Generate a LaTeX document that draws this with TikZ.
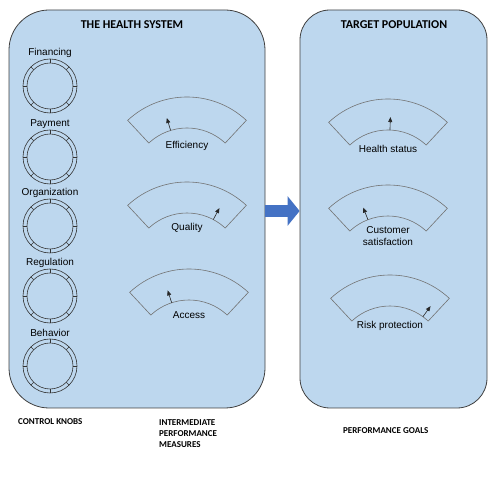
\documentclass[tikz,border=0pt]{standalone}
\usepackage{fontspec}
\setmainfont{Liberation Sans}
\newfontfamily\calibri{Carlito}
\usetikzlibrary{arrows.meta}

\definecolor{panelblue}{HTML}{BDD7EE}
\definecolor{arrowblue}{HTML}{4472C4}

\tikzset{
  knob/.pic={
    \draw[black!80, line width=0.6pt] (0,0) circle[radius=27pt] (0,0) circle[radius=23pt];
    \foreach \a in {0,45,...,315}
      \draw[black!80, line width=0.6pt] (\a:23pt) -- (\a:27pt);
  },
  gauge/.pic={
    \draw[black!55, line width=0.6pt] (47:87pt) arc[start angle=47, end angle=133, radius=87pt]
      -- (133:56pt) arc[start angle=133, end angle=47, radius=56pt] -- cycle;
    \draw[black!85, line width=0.6pt, -{Triangle[width=4pt,length=5pt]}] (#1:56pt) -- (#1:69pt);
  }
}

\begin{document}
\begin{tikzpicture}[x=1pt, y=1pt,
    panel/.style={draw=black!75, line width=0.8pt, fill=panelblue, inner sep=0pt},
    heading/.style={font=\calibri\bfseries\fontsize{12}{14}\selectfont},
    caption/.style={font=\calibri\bfseries\fontsize{9}{11}\selectfont, align=left, anchor=west, inner sep=0pt},
    knoblabel/.style={font=\fontsize{10}{12}\selectfont},
    gaugelabel/.style={font=\fontsize{10}{12}\selectfont, align=center, inner sep=1pt}]
  \useasboundingbox (0,0) rectangle (500,478);

  % panels
  \node[panel, rounded corners=40pt, minimum width=256pt, minimum height=398pt] (hs) at (137,269) {};
  \node[panel, rounded corners=30pt, minimum width=187pt, minimum height=398pt] (tp) at (393.5,269) {};
  \node[heading] (hst) at (132,453) {THE HEALTH SYSTEM};
  \node[heading] (tpt) at (394,453) {TARGET POPULATION};

  % control knobs
  \foreach \n/\y/\t in {fin/392/Financing, pay/321/Payment, org/252/Organization,
                        reg/182/Regulation, beh/112/Behavior} {
    \pic at (50,\y) {knob};
    \node[knoblabel] (\n) at (50,\y+33) {\t};
  }

  % intermediate measures
  \pic at (187,294) {gauge=107};
  \node[gaugelabel] (eff) at (187,332) {Efficiency};
  \pic at (187,209) {gauge=62};
  \node[gaugelabel] (qua) at (187,250) {Quality};
  \pic at (189,122) {gauge=108};
  \node[gaugelabel] (acc) at (189,163) {Access};

  % goals
  \pic at (388,292) {gauge=88};
  \node[gaugelabel] (hea) at (388,329) {Health status};
  \pic at (388,206) {gauge=111};
  \node[gaugelabel] (cus) at (388,242) {Customer\\satisfaction};
  \pic at (390,116) {gauge=54};
  \node[gaugelabel] (ris) at (390,152) {Risk protection};

  % link between panels
  \coordinate (mid) at (282,267);
  \draw[arrowblue, line width=12pt, -{Triangle[width=29pt,length=12pt]}] (hs.east |- mid) -- (tp.west |- mid);

  % captions
  \node[caption] (ck) at (18,56) {CONTROL KNOBS};
  \node[caption] (ipm) at (159,44) {INTERMEDIATE\\PERFORMANCE\\MEASURES};
  \node[caption] (pg) at (343,47) {PERFORMANCE GOALS};
\end{tikzpicture}
\end{document}
